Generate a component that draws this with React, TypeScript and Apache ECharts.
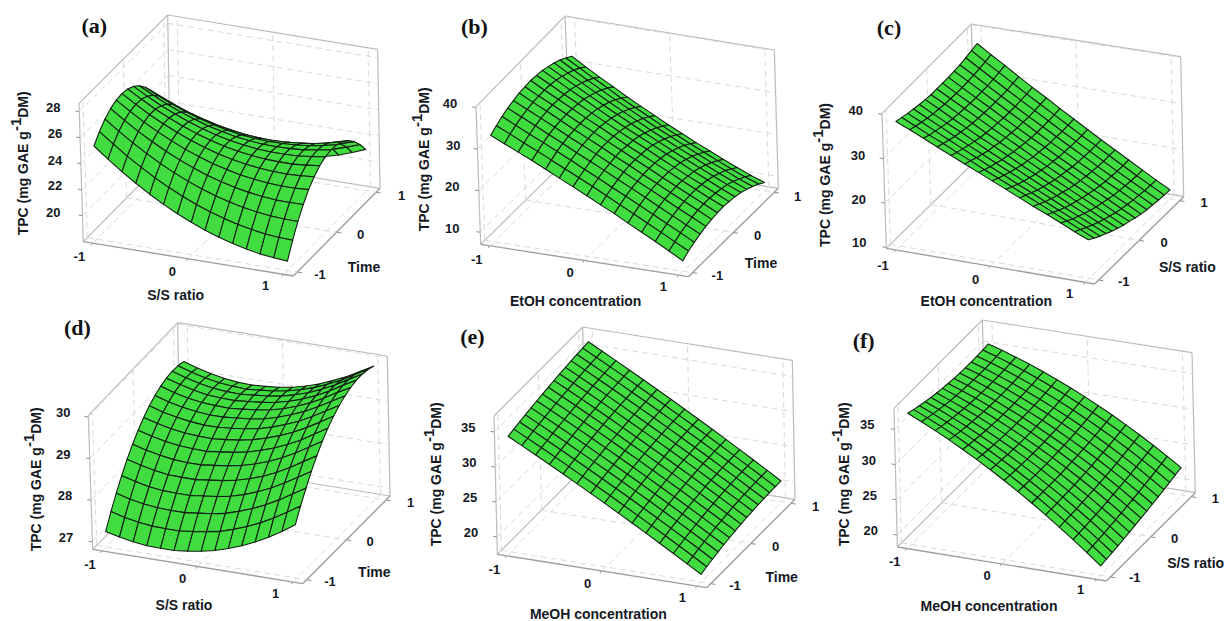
import React, { useEffect, useRef } from "react";
import * as echarts from "echarts";

// Coded factor levels of the mesh nodes, shared by both horizontal axes.
const levels = [-1, -0.857, -0.714, -0.571, -0.429, -0.286, -0.143, 0, 0.143, 0.286, 0.429, 0.571, 0.714, 0.857, 1];

// TPC read at every mesh node: one row per level of the second factor, one column per level of the first.
const surfaceA = [
  [25.17, 24.33, 23.54, 22.82, 22.15, 21.54, 20.99, 20.50, 20.07, 19.70, 19.39, 19.13, 18.93, 18.80, 18.72],
  [25.84, 25.04, 24.28, 23.60, 22.96, 22.39, 21.87, 21.42, 21.02, 20.69, 20.41, 20.19, 20.02, 19.93, 19.88],
  [26.36, 25.59, 24.87, 24.22, 23.62, 23.08, 22.60, 22.18, 21.82, 21.52, 21.28, 21.10, 20.96, 20.91, 20.89],
  [26.72, 25.99, 25.30, 24.69, 24.13, 23.62, 23.18, 22.79, 22.47, 22.20, 22.00, 21.85, 21.75, 21.73, 21.75],
  [26.94, 26.24, 25.59, 25.01, 24.49, 24.01, 23.61, 23.25, 22.97, 22.73, 22.57, 22.45, 22.39, 22.40, 22.46],
  [27.00, 26.34, 25.72, 25.18, 24.69, 24.25, 23.88, 23.56, 23.31, 23.11, 22.98, 22.90, 22.87, 22.92, 23.01],
  [26.91, 26.29, 25.70, 25.20, 24.74, 24.34, 24.00, 23.72, 23.50, 23.34, 23.24, 23.20, 23.20, 23.29, 23.41],
  [26.67, 26.08, 25.53, 25.06, 24.64, 24.27, 23.97, 23.72, 23.54, 23.41, 23.35, 23.35, 23.38, 23.51, 23.66],
  [26.28, 25.72, 25.21, 24.77, 24.39, 24.05, 23.79, 23.57, 23.43, 23.33, 23.31, 23.34, 23.41, 23.57, 23.76],
  [25.73, 25.21, 24.74, 24.33, 23.99, 23.68, 23.46, 23.27, 23.17, 23.10, 23.12, 23.18, 23.29, 23.48, 23.71],
  [25.03, 24.55, 24.11, 23.74, 23.43, 23.16, 22.97, 22.82, 22.75, 22.72, 22.78, 22.87, 23.02, 23.24, 23.51],
  [24.18, 23.73, 23.33, 22.99, 22.72, 22.49, 22.33, 22.22, 22.18, 22.19, 22.28, 22.41, 22.59, 22.85, 23.15],
  [23.18, 22.77, 22.40, 22.10, 21.86, 21.67, 21.54, 21.47, 21.46, 21.51, 21.63, 21.80, 22.01, 22.31, 22.64],
  [22.03, 21.65, 21.32, 21.05, 20.85, 20.69, 20.60, 20.56, 20.59, 20.67, 20.83, 21.03, 21.28, 21.61, 21.98],
  [20.73, 20.38, 20.09, 19.85, 19.69, 19.56, 19.51, 19.50, 19.57, 19.68, 19.88, 20.11, 20.40, 20.76, 21.17],
];
const surfaceB = [
  [32.7, 31.2, 29.7, 28.2, 26.6, 25.0, 23.4, 21.8, 20.1, 18.5, 16.7, 15.0, 13.3, 11.5, 9.6],
  [33.6, 32.1, 30.5, 29.0, 27.4, 25.8, 24.2, 22.6, 20.9, 19.2, 17.5, 15.8, 14.1, 12.3, 10.6],
  [34.4, 32.8, 31.2, 29.7, 28.1, 26.5, 24.8, 23.2, 21.5, 19.9, 18.2, 16.5, 14.8, 13.1, 11.3],
  [35.0, 33.4, 31.8, 30.2, 28.6, 26.9, 25.3, 23.7, 22.0, 20.4, 18.7, 17.0, 15.3, 13.6, 11.9],
  [35.4, 33.8, 32.2, 30.6, 28.9, 27.3, 25.7, 24.0, 22.4, 20.7, 19.1, 17.4, 15.7, 14.1, 12.4],
  [35.8, 34.1, 32.5, 30.8, 29.1, 27.5, 25.9, 24.2, 22.6, 20.9, 19.3, 17.6, 16.0, 14.4, 12.7],
  [35.9, 34.2, 32.6, 30.9, 29.2, 27.6, 25.9, 24.3, 22.6, 21.0, 19.3, 17.7, 16.1, 14.5, 12.9],
  [36.0, 34.2, 32.5, 30.8, 29.1, 27.5, 25.8, 24.1, 22.5, 20.9, 19.3, 17.7, 16.1, 14.5, 13.0],
  [35.8, 34.1, 32.3, 30.6, 28.9, 27.2, 25.5, 23.9, 22.3, 20.6, 19.0, 17.4, 15.9, 14.3, 12.8],
  [35.6, 33.8, 32.0, 30.3, 28.5, 26.8, 25.1, 23.5, 21.9, 20.3, 18.7, 17.1, 15.6, 14.0, 12.6],
  [35.1, 33.3, 31.5, 29.7, 28.0, 26.3, 24.6, 22.9, 21.3, 19.7, 18.1, 16.6, 15.1, 13.6, 12.2],
  [34.6, 32.7, 30.9, 29.1, 27.3, 25.6, 23.9, 22.2, 20.6, 19.0, 17.5, 15.9, 14.4, 13.0, 11.6],
  [33.9, 32.0, 30.1, 28.3, 26.5, 24.8, 23.1, 21.4, 19.8, 18.2, 16.6, 15.1, 13.7, 12.2, 10.9],
  [33.0, 31.1, 29.2, 27.4, 25.5, 23.8, 22.1, 20.4, 18.8, 17.2, 15.7, 14.2, 12.7, 11.3, 10.1],
  [32.0, 30.0, 28.1, 26.3, 24.4, 22.7, 21.0, 19.3, 17.7, 16.1, 14.6, 13.1, 11.7, 10.3, 9.1],
];
const surfaceC = [
  [37.8, 36.4, 35.0, 33.5, 32.1, 30.7, 29.3, 27.9, 26.5, 25.1, 23.7, 22.4, 21.0, 19.6, 18.3],
  [37.4, 35.9, 34.4, 33.0, 31.5, 30.1, 28.6, 27.2, 25.8, 24.4, 23.0, 21.6, 20.2, 18.8, 17.4],
  [37.0, 35.5, 34.0, 32.5, 31.0, 29.5, 28.0, 26.6, 25.1, 23.7, 22.2, 20.8, 19.4, 18.0, 16.6],
  [36.7, 35.1, 33.6, 32.0, 30.5, 29.0, 27.5, 26.0, 24.5, 23.0, 21.6, 20.1, 18.7, 17.3, 15.9],
  [36.4, 34.8, 33.2, 31.7, 30.1, 28.5, 27.0, 25.5, 24.0, 22.5, 21.0, 19.5, 18.1, 16.6, 15.2],
  [36.2, 34.6, 32.9, 31.3, 29.7, 28.2, 26.6, 25.0, 23.5, 22.0, 20.5, 19.0, 17.5, 16.0, 14.6],
  [36.0, 34.4, 32.7, 31.1, 29.4, 27.8, 26.2, 24.7, 23.1, 21.5, 20.0, 18.5, 17.0, 15.5, 14.0],
  [36.0, 34.3, 32.6, 30.9, 29.2, 27.6, 26.0, 24.3, 22.7, 21.2, 19.6, 18.1, 16.6, 15.0, 13.6],
  [36.0, 34.2, 32.5, 30.8, 29.1, 27.4, 25.7, 24.1, 22.5, 20.9, 19.3, 17.7, 16.2, 14.6, 13.1],
  [36.0, 34.2, 32.4, 30.7, 28.9, 27.2, 25.5, 23.9, 22.2, 20.6, 19.0, 17.4, 15.8, 14.3, 12.7],
  [36.1, 34.3, 32.5, 30.7, 28.9, 27.2, 25.4, 23.7, 22.1, 20.4, 18.8, 17.1, 15.6, 14.0, 12.4],
  [36.2, 34.4, 32.5, 30.7, 28.9, 27.1, 25.4, 23.7, 22.0, 20.3, 18.6, 17.0, 15.4, 13.8, 12.2],
  [36.5, 34.6, 32.7, 30.8, 29.0, 27.2, 25.4, 23.6, 21.9, 20.2, 18.5, 16.8, 15.2, 13.6, 12.0],
  [36.8, 34.8, 32.9, 31.0, 29.1, 27.3, 25.5, 23.7, 21.9, 20.2, 18.5, 16.8, 15.1, 13.5, 11.9],
  [37.1, 35.1, 33.2, 31.2, 29.3, 27.5, 25.6, 23.8, 22.0, 20.2, 18.5, 16.8, 15.1, 13.4, 11.8],
];
const surfaceD = [
  [27.19, 27.11, 27.05, 27.01, 27.00, 27.00, 27.04, 27.09, 27.16, 27.26, 27.38, 27.52, 27.69, 27.88, 28.09],
  [27.53, 27.44, 27.38, 27.34, 27.33, 27.33, 27.37, 27.42, 27.48, 27.58, 27.70, 27.84, 28.01, 28.20, 28.40],
  [27.83, 27.74, 27.68, 27.64, 27.63, 27.63, 27.67, 27.71, 27.77, 27.87, 27.99, 28.13, 28.30, 28.49, 28.68],
  [28.11, 28.02, 27.95, 27.91, 27.90, 27.90, 27.94, 27.98, 28.04, 28.13, 28.25, 28.39, 28.56, 28.75, 28.94],
  [28.36, 28.27, 28.20, 28.15, 28.14, 28.14, 28.18, 28.22, 28.28, 28.37, 28.48, 28.62, 28.79, 28.98, 29.17],
  [28.58, 28.49, 28.42, 28.37, 28.35, 28.35, 28.39, 28.43, 28.49, 28.58, 28.69, 28.83, 28.99, 29.18, 29.37],
  [28.77, 28.68, 28.61, 28.56, 28.54, 28.53, 28.57, 28.61, 28.67, 28.76, 28.87, 29.00, 29.16, 29.35, 29.54],
  [28.93, 28.84, 28.77, 28.72, 28.70, 28.69, 28.72, 28.76, 28.82, 28.91, 29.02, 29.15, 29.31, 29.49, 29.68],
  [29.07, 28.97, 28.90, 28.85, 28.82, 28.82, 28.85, 28.89, 28.94, 29.03, 29.14, 29.27, 29.43, 29.61, 29.79],
  [29.17, 29.07, 29.00, 28.95, 28.92, 28.92, 28.95, 28.98, 29.03, 29.12, 29.23, 29.36, 29.52, 29.70, 29.87],
  [29.25, 29.15, 29.07, 29.02, 29.00, 28.99, 29.02, 29.05, 29.10, 29.18, 29.29, 29.42, 29.58, 29.76, 29.93],
  [29.30, 29.20, 29.12, 29.06, 29.04, 29.03, 29.06, 29.09, 29.14, 29.22, 29.32, 29.45, 29.61, 29.79, 29.96],
  [29.32, 29.22, 29.14, 29.08, 29.05, 29.04, 29.07, 29.10, 29.15, 29.23, 29.33, 29.46, 29.61, 29.79, 29.96],
  [29.31, 29.21, 29.13, 29.07, 29.04, 29.02, 29.05, 29.08, 29.13, 29.21, 29.31, 29.44, 29.58, 29.76, 29.93],
  [29.27, 29.17, 29.09, 29.03, 28.99, 28.98, 29.00, 29.03, 29.08, 29.16, 29.26, 29.39, 29.53, 29.70, 29.87],
];
const surfaceE = [
  [34.03, 33.01, 31.98, 30.93, 29.88, 28.81, 27.73, 26.64, 25.53, 24.42, 23.29, 22.14, 20.99, 19.82, 18.64],
  [34.23, 33.22, 32.19, 31.15, 30.10, 29.03, 27.95, 26.87, 25.76, 24.65, 23.53, 22.39, 21.24, 20.08, 18.90],
  [34.43, 33.42, 32.40, 31.36, 30.31, 29.25, 28.18, 27.09, 26.00, 24.89, 23.77, 22.63, 21.49, 20.33, 19.15],
  [34.61, 33.60, 32.58, 31.55, 30.50, 29.45, 28.38, 27.29, 26.20, 25.09, 23.98, 22.84, 21.70, 20.55, 19.37],
  [34.79, 33.78, 32.76, 31.73, 30.69, 29.63, 28.56, 27.48, 26.39, 25.28, 24.17, 23.04, 21.89, 20.74, 19.58],
  [34.95, 33.95, 32.93, 31.90, 30.86, 29.80, 28.73, 27.66, 26.56, 25.46, 24.35, 23.22, 22.08, 20.93, 19.76],
  [35.11, 34.11, 33.09, 32.06, 31.02, 29.96, 28.89, 27.82, 26.72, 25.62, 24.51, 23.38, 22.24, 21.09, 19.92],
  [35.25, 34.25, 33.23, 32.20, 31.16, 30.10, 29.03, 27.96, 26.86, 25.76, 24.65, 23.52, 22.38, 21.23, 20.07],
  [35.38, 34.38, 33.36, 32.33, 31.29, 30.23, 29.16, 28.09, 26.99, 25.89, 24.78, 23.65, 22.51, 21.36, 20.19],
  [35.51, 34.50, 33.48, 32.45, 31.41, 30.35, 29.28, 28.20, 27.11, 26.00, 24.89, 23.76, 22.61, 21.46, 20.29],
  [35.62, 34.61, 33.59, 32.56, 31.51, 30.45, 29.38, 28.30, 27.20, 26.09, 24.98, 23.84, 22.70, 21.54, 20.37],
  [35.73, 34.72, 33.69, 32.65, 31.60, 30.54, 29.47, 28.38, 27.28, 26.17, 25.05, 23.91, 22.76, 21.60, 20.43],
  [35.82, 34.80, 33.78, 32.73, 31.68, 30.62, 29.54, 28.45, 27.35, 26.23, 25.11, 23.97, 22.82, 21.65, 20.47],
  [35.90, 34.88, 33.85, 32.80, 31.74, 30.67, 29.59, 28.49, 27.39, 26.27, 25.14, 23.99, 22.84, 21.67, 20.49],
  [35.98, 34.95, 33.92, 32.86, 31.80, 30.73, 29.64, 28.54, 27.43, 26.30, 25.17, 24.02, 22.86, 21.68, 20.49],
];
const surfaceF = [
  [36.93, 36.03, 35.07, 34.07, 33.01, 31.90, 30.74, 29.53, 28.27, 26.96, 25.59, 24.18, 22.71, 21.20, 19.63],
  [36.63, 35.76, 34.83, 33.86, 32.83, 31.75, 30.62, 29.44, 28.21, 26.93, 25.60, 24.21, 22.78, 21.29, 19.76],
  [36.37, 35.52, 34.63, 33.68, 32.68, 31.64, 30.54, 29.39, 28.18, 26.93, 25.63, 24.27, 22.87, 21.41, 19.90],
  [36.13, 35.31, 34.44, 33.52, 32.55, 31.53, 30.46, 29.34, 28.16, 26.94, 25.66, 24.33, 22.95, 21.52, 20.04],
  [35.92, 35.13, 34.29, 33.39, 32.45, 31.45, 30.41, 29.31, 28.16, 26.96, 25.71, 24.41, 23.05, 21.65, 20.19],
  [35.73, 34.96, 34.15, 33.28, 32.36, 31.39, 30.36, 29.29, 28.17, 26.99, 25.76, 24.49, 23.16, 21.78, 20.35],
  [35.58, 34.84, 34.04, 33.20, 32.30, 31.35, 30.35, 29.30, 28.20, 27.05, 25.84, 24.59, 23.28, 21.93, 20.52],
  [35.46, 34.74, 33.96, 33.14, 32.26, 31.34, 30.36, 29.33, 28.25, 27.12, 25.94, 24.71, 23.42, 22.09, 20.70],
  [35.36, 34.66, 33.91, 33.10, 32.25, 31.34, 30.38, 29.37, 28.32, 27.21, 26.04, 24.83, 23.57, 22.25, 20.89],
  [35.29, 34.61, 33.87, 33.09, 32.25, 31.36, 30.43, 29.43, 28.39, 27.30, 26.16, 24.97, 23.72, 22.42, 21.08],
  [35.25, 34.58, 33.87, 33.10, 32.28, 31.41, 30.49, 29.51, 28.49, 27.42, 26.29, 25.11, 23.88, 22.61, 21.28],
  [35.24, 34.59, 33.89, 33.14, 32.33, 31.48, 30.57, 29.62, 28.61, 27.55, 26.44, 25.28, 24.07, 22.80, 21.49],
  [35.26, 34.62, 33.94, 33.20, 32.41, 31.57, 30.68, 29.74, 28.74, 27.70, 26.60, 25.45, 24.26, 23.01, 21.71],
  [35.31, 34.69, 34.01, 33.29, 32.51, 31.68, 30.80, 29.88, 28.90, 27.86, 26.78, 25.65, 24.46, 23.23, 21.94],
  [35.38, 34.77, 34.10, 33.39, 32.63, 31.81, 30.94, 30.03, 29.06, 28.04, 26.96, 25.84, 24.67, 23.44, 22.17],
];

const factorTicks = [-1, 0, 1];
const zTicksA = [20, 22, 24, 26, 28];
const zTicksB = [10, 20, 30, 40];
const zTicksC = [10, 20, 30, 40];
const zTicksD = [27, 28, 29, 30];
const zTicksE = [20, 25, 30, 35];
const zTicksF = [20, 25, 30, 35];
const SURFACE = "#40dc40";
const BOX_LIMIT = 1.1;

type P = [number, number];
const panels: any[] = [
  { name: "(a)", off: [0, 0], A: [250, 725], B: [880, 828], C: [1140, 565], At: [237, 310], Dt: [503, 45], Ct: [1133, 148], zr: [18, 28.64], s: surfaceA, zt: zTicksA,
    zl: [[160, 637], [165, 555], [165, 480], [165, 400], [160, 322]], xl: [[238, 770], [517, 815], [797, 857]], yl: [[960, 822], [1082, 703], [1205, 585]],
    xT: ["S/S ratio", 527, 885], yT: ["Time", 1092, 802], zT: [56, 490], nm: [283, 75] },
  { name: "(b)", off: [410, 0], A: [212, 733], B: [835, 830], C: [1105, 565], At: [198, 320], Dt: [465, 48], Ct: [1093, 150], zr: [7.1, 40.2], s: surfaceB, zt: zTicksB,
    zl: [[127, 685], [127, 560], [130, 435], [120, 310]], xl: [[200, 777], [480, 818], [760, 860]], yl: [[922, 825], [1043, 707], [1163, 588]],
    xT: ["EtOH concentration", 497, 902], yT: ["Time", 1053, 788], zT: [31, 478], nm: [193, 80] },
  { name: "(c)", off: [818, 0], A: [205, 745], B: [830, 852], C: [1097, 590], At: [192, 340], Dt: [460, 72], Ct: [1088, 170], zr: [9.8, 40.2], s: surfaceC, zt: zTicksC,
    zl: [[124, 728], [122, 597], [120, 465], [113, 330]], xl: [[195, 795], [473, 838], [755, 880]], yl: [[917, 845], [1038, 727], [1158, 607]],
    xT: ["EtOH concentration", 505, 902], yT: ["S/S ratio", 1108, 802], zT: [8, 525], nm: [213, 83] },
  { name: "(d)", off: [0, 311], A: [278, 715], B: [908, 818], C: [1170, 555], At: [265, 313], Dt: [533, 35], Ct: [1162, 135], zr: [26.82, 30.04], s: surfaceD, zt: zTicksD,
    zl: [[198, 680], [195, 553], [190, 430], [190, 303]], xl: [[270, 760], [548, 803], [827, 847]], yl: [[990, 810], [1110, 692], [1232, 575]],
    xT: ["S/S ratio", 552, 882], yT: ["Time", 1123, 783], zT: [96, 505], nm: [232, 50] },
  { name: "(e)", off: [410, 311], A: [262, 730], B: [890, 830], C: [1155, 565], At: [252, 315], Dt: [518, 48], Ct: [1147, 148], zr: [17.52, 37.29], s: surfaceE, zt: zTicksE,
    zl: [[183, 663], [180, 560], [178, 453], [175, 350]], xl: [[253, 775], [533, 817], [817, 860]], yl: [[975, 823], [1097, 707], [1217, 587]],
    xT: ["MeOH concentration", 565, 908], yT: ["Time", 1115, 797], zT: [66, 490], nm: [187, 77] },
  { name: "(f)", off: [818, 311], A: [238, 708], B: [865, 810], C: [1132, 545], At: [228, 292], Dt: [493, 27], Ct: [1122, 125], zr: [18.29, 37.99], s: surfaceF, zt: zTicksF,
    zl: [[158, 657], [155, 553], [152, 447], [148, 340]], xl: [[230, 752], [507, 793], [788, 835]], yl: [[950, 800], [1070, 682], [1192, 563]],
    xT: ["MeOH concentration", 513, 885], yT: ["S/S ratio", 1133, 757], zT: [66, 490], nm: [137, 87] },
];

function project(p: any, x: number, y: number, z: number): P {
  const u = (x + BOX_LIMIT) / (2 * BOX_LIMIT), v = (y + BOX_LIMIT) / (2 * BOX_LIMIT), w = (z - p.zr[0]) / (p.zr[1] - p.zr[0]);
  const D = [p.A[0] + p.C[0] - p.B[0], p.A[1] + p.C[1] - p.B[1]];
  const Bt = [p.At[0] + p.Ct[0] - p.Dt[0], p.At[1] + p.Ct[1] - p.Dt[1]];
  const out: number[] = [0, 1].map((c) => {
    const fl = (1 - v) * ((1 - u) * p.A[c] + u * p.B[c]) + v * ((1 - u) * D[c] + u * p.C[c]);
    const tp = (1 - v) * ((1 - u) * p.At[c] + u * Bt[c]) + v * ((1 - u) * p.Dt[c] + u * p.Ct[c]);
    return p.off[c] + ((1 - w) * fl + w * tp) / 3;
  });
  return out as P;
}

function frameRows(p: any) {
  const a = -BOX_LIMIT, b = BOX_LIMIT, [z0, z1] = p.zr;
  const rows: number[][] = [
    [a, a, z0, a, b, z0, 0], [a, b, z0, b, b, z0, 0], [a, a, z0, a, a, z1, 0], [a, b, z0, a, b, z1, 0], [b, b, z0, b, b, z1, 0],
    [a, a, z1, a, b, z1, 0], [a, b, z1, b, b, z1, 0], [a, a, z0, b, a, z0, 2], [b, a, z0, b, b, z0, 2],
  ];
  factorTicks.forEach((t) => {
    rows.push([t, a, z0, t, b, z0, 1], [a, t, z0, b, t, z0, 1], [t, b, z0, t, b, z1, 1], [a, t, z0, a, t, z1, 1]);
    rows.push([t, a, z0, t, a - 0.05, z0, 3], [b, t, z0, b + 0.05, t, z0, 3]);
  });
  p.zt.forEach((t: number) => {
    rows.push([a, a, t, a, b, t, 1], [a, b, t, b, b, t, 1], [a, a, t, a - 0.04, a, t, 3]);
  });
  return rows;
}

function cellRows(p: any) {
  const rows: number[][] = [];
  const n = levels.length;
  for (let j = n - 2; j >= 0; j--) for (let i = 0; i < n - 1; i++) {
    rows.push([levels[i], levels[i + 1], levels[j], levels[j + 1], p.s[j][i], p.s[j][i + 1], p.s[j + 1][i + 1], p.s[j + 1][i]]);
  }
  return rows;
}

const FRAME_STYLES: any[] = [
  { stroke: "#bcbcbc", lineWidth: 1.2 },
  { stroke: "#dadada", lineWidth: 1, lineDash: [6, 4] },
  { stroke: "#9e9e9e", lineWidth: 1.4 },
  { stroke: "#8e8e8e", lineWidth: 1 },
];

const FONT = "Liberation Sans";
const INK = "#14181f";

function texts() {
  const out: any[] = [];
  const add = (p: any, t: string, c: number[], size: number, extra: any = {}) => out.push({
    type: "text", x: p.off[0] + c[0] / 3, y: p.off[1] + c[1] / 3, silent: true,
    style: { text: t, fontFamily: FONT, fontWeight: "bold", fontSize: size, fill: INK, align: "center", verticalAlign: "middle", ...extra },
  });
  panels.forEach((p) => {
    p.zt.forEach((t: number, i: number) => add(p, String(t), p.zl[i], 13));
    factorTicks.forEach((t, i) => { add(p, String(t), p.xl[i], 13); add(p, String(t), p.yl[i], 13); });
    add(p, p.xT[0], [p.xT[1], p.xT[2]], 14);
    add(p, p.yT[0], [p.yT[1], p.yT[2]], 14);
    add(p, p.name, p.nm, 22, { fontFamily: "Liberation Serif", fill: "#111" });
    out.push({
      type: "text", x: p.off[0] + p.zT[0] / 3, y: p.off[1] + p.zT[1] / 3, rotation: Math.PI / 2, silent: true,
      style: {
        text: "{a|TPC (mg GAE g}{b|-1}{a|DM)}", align: "center", verticalAlign: "middle", fill: INK,
        rich: {
          a: { fontFamily: FONT, fontWeight: "bold", fontSize: 14, fill: INK, lineHeight: 22, verticalAlign: "bottom" },
          b: { fontFamily: FONT, fontWeight: "bold", fontSize: 15, fill: INK, lineHeight: 22, verticalAlign: "top" },
        },
      },
    });
  });
  return out;
}

export default function App() {
  const ref = useRef<HTMLDivElement>(null);
  useEffect(() => {
    const chart = echarts.init(ref.current!, null, { renderer: "svg" });
    const series: any[] = [];
    panels.forEach((p) => {
      series.push({
        type: "custom", coordinateSystem: "cartesian2d", clip: false, silent: true, data: frameRows(p),
        renderItem: (_: any, api: any) => {
          const a = api.coord(project(p, api.value(0), api.value(1), api.value(2)));
          const b = api.coord(project(p, api.value(3), api.value(4), api.value(5)));
          return { type: "line", shape: { x1: a[0], y1: a[1], x2: b[0], y2: b[1] }, style: FRAME_STYLES[api.value(6)] };
        },
      });
      series.push({
        type: "custom", coordinateSystem: "cartesian2d", clip: false, silent: true, data: cellRows(p),
        renderItem: (_: any, api: any) => {
          const x0 = api.value(0), x1 = api.value(1), y0 = api.value(2), y1 = api.value(3);
          const pts = [[x0, y0, api.value(4)], [x1, y0, api.value(5)], [x1, y1, api.value(6)], [x0, y1, api.value(7)]]
            .map((q) => api.coord(project(p, q[0], q[1], q[2])));
          return { type: "polygon", shape: { points: pts }, style: { fill: SURFACE, stroke: "#122012", lineWidth: 1.1, lineJoin: "round" } };
        },
      });
    });
    chart.setOption({
      animation: false,
      backgroundColor: "#fff",
      grid: { left: 0, top: 0, width: 1228, height: 621 },
      xAxis: { type: "value", min: 0, max: 1228, show: false },
      yAxis: { type: "value", min: 0, max: 621, inverse: true, show: false },
      series,
      graphic: { elements: texts() },
    });
    return () => chart.dispose();
  }, []);
  return <div ref={ref} style={{ position: "fixed", left: 0, top: 0, width: 1228, height: 621 }} />;
}
